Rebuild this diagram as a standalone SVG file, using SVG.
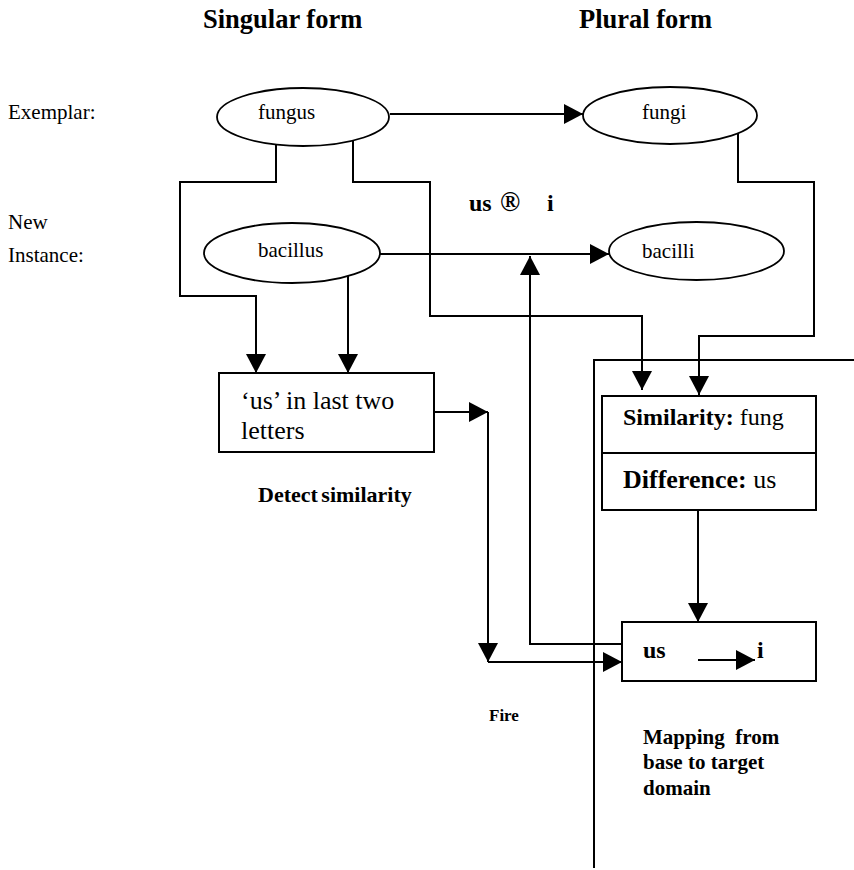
<svg xmlns="http://www.w3.org/2000/svg" width="854" height="870" viewBox="0 0 854 870">
<defs>
<style>
text{font-family:"Liberation Serif","Times New Roman",serif;fill:#000;white-space:pre}
.b{font-weight:bold}
.shape{fill:#fff;stroke:#000;stroke-width:2}
.ell{fill:#fff;stroke:#000;stroke-width:1.8}
.c{fill:none;stroke:#000;stroke-width:2}
.arr{marker-end:url(#ah)}
</style>
<marker id="ah" markerUnits="userSpaceOnUse" markerWidth="20" markerHeight="20" refX="19" refY="10" orient="auto">
<path d="M0,0 L19,10 L0,20 z" fill="#000"/>
</marker>
</defs>
<rect width="854" height="870" fill="#fff"/>
<g id="headers">
<text class="b" x="203" y="28" font-size="26.5">Singular form</text>
<text class="b" x="579" y="28" font-size="26.5">Plural form</text>
<text x="8" y="119" font-size="21">Exemplar:</text>
<text x="8" y="229" font-size="21">New</text>
<text x="8" y="262" font-size="21">Instance:</text>
</g>
<g id="connectors">
<line class="c arr" x1="390" y1="114" x2="583" y2="114"/>
<line class="c arr" x1="380" y1="254" x2="609" y2="254"/>
<polyline class="c arr" points="276,144 276,182 180,182 180,296 256,296 256,373"/>
<line class="c arr" x1="348" y1="276" x2="348" y2="373"/>
<polyline class="c arr" points="353,141 353,182 430,182 430,316 642,316 642,390"/>
<polyline class="c arr" points="738,133 738,182 814,182 814,336 699,336 699,395"/>
<line class="c arr" x1="434" y1="412" x2="488" y2="412"/>
<line class="c arr" x1="488" y1="412" x2="488" y2="662"/>
<line class="c arr" x1="488" y1="662" x2="622" y2="662"/>
<polyline class="c arr" points="625,644 530,644 530,256"/>
<line class="c arr" x1="698" y1="505" x2="698" y2="622"/>
<polyline class="c" points="854,360 594,360 594,868"/>
</g>
<g id="fungus">
<ellipse class="ell" cx="303" cy="117" rx="86" ry="29"/>
<text x="258" y="119" font-size="21">fungus</text>
</g>
<g id="fungi">
<ellipse class="ell" cx="670" cy="115.5" rx="87" ry="28.5"/>
<text x="642" y="119" font-size="21">fungi</text>
</g>
<g id="bacillus">
<ellipse class="ell" cx="292" cy="253" rx="88" ry="30"/>
<text x="258" y="257" font-size="21">bacillus</text>
</g>
<g id="bacilli">
<ellipse class="ell" cx="696.5" cy="251" rx="87.5" ry="29"/>
<text x="642" y="258" font-size="21">bacilli</text>
</g>
<g id="rule-label">
<text class="b" y="211" font-size="24"><tspan x="469">us</tspan><tspan x="500" font-size="27">®</tspan><tspan x="547">i</tspan></text>
</g>
<g id="detect">
<rect class="shape" x="219" y="373" width="215" height="79"/>
<text x="241" y="409" font-size="26">‘us’ in last two</text>
<text x="241" y="439" font-size="26">letters</text>
<text class="b" x="258" y="502" font-size="22" word-spacing="-2">Detect similarity</text>
</g>
<g id="simdiff">
<rect class="shape" x="602" y="396" width="214" height="114"/>
<line class="c" x1="602" y1="453" x2="816" y2="453"/>
<text x="623" y="425" font-size="24"><tspan class="b">Similarity:</tspan> fung</text>
<text x="623" y="488" font-size="26"><tspan class="b">Difference:</tspan> us</text>
</g>
<g id="mapping">
<rect class="shape" x="622" y="622" width="194" height="59"/>
<text class="b" x="643" y="658" font-size="24">us</text>
<line class="c arr" x1="698" y1="660" x2="755" y2="660"/>
<text class="b" x="757" y="658" font-size="24">i</text>
<text class="b" x="643" y="744" font-size="21">Mapping  from</text>
<text class="b" x="643" y="769" font-size="21">base to target</text>
<text class="b" x="643" y="795" font-size="21">domain</text>
</g>
<g id="fire">
<text class="b" x="489" y="721" font-size="17">Fire</text>
</g>
</svg>
